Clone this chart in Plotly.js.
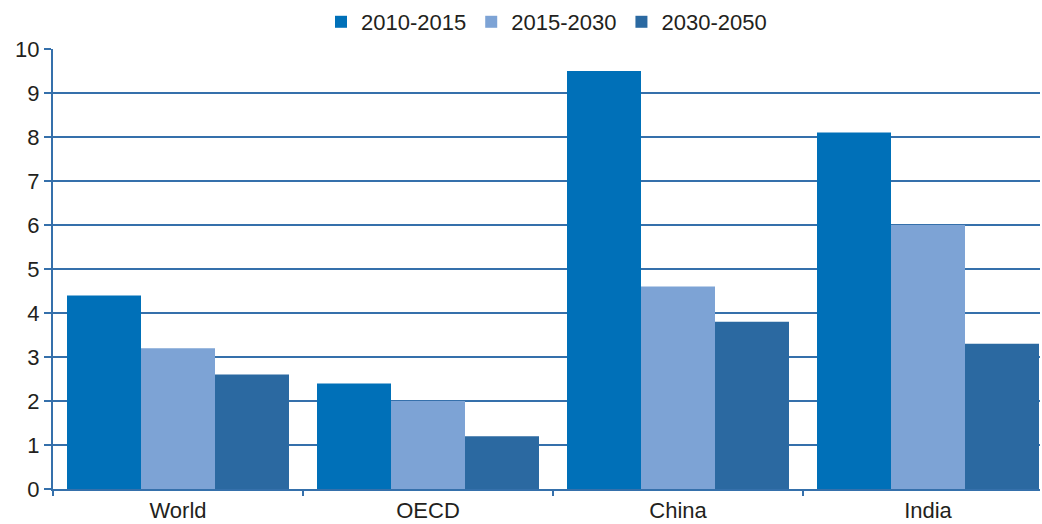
<!DOCTYPE html>
<html>
<head>
<meta charset="utf-8">
<script src="https://cdn.plot.ly/plotly-3.0.1.min.js"></script>
<style>html,body{margin:0;padding:0;background:#fff;}#chart{width:1042px;height:524px;}</style>
</head>
<body>
<div id="chart"></div>
<script>
const categories = ["World", "OECD", "China", "India"];
const seriesNames = ["2010-2015", "2015-2030", "2030-2050"];
const values2010_2015 = [4.4, 2.4, 9.5, 8.1];
const values2015_2030 = [3.2, 2.0, 4.6, 6.0];
const values2030_2050 = [2.6, 1.2, 3.8, 3.3];
const yTicks = [0, 1, 2, 3, 4, 5, 6, 7, 8, 9, 10];

const colors = ["#0070b8", "#7da3d5", "#2b69a1"];
const allValues = [values2010_2015, values2015_2030, values2030_2050];

const traces = allValues.map((v, i) => ({
  type: "bar",
  name: seriesNames[i],
  x: categories,
  y: v,
  marker: {color: colors[i], line: {width: 0}},
  hoverinfo: "x+y+name"
}));

const lineCol = "#3570ab";
const font = {family: "Liberation Sans, Arial, sans-serif", size: 22, color: "#231f20"};

const layout = {
  width: 1042,
  height: 524,
  margin: {l: 53, r: 2, t: 48, b: 35, pad: 0},
  paper_bgcolor: "#ffffff",
  plot_bgcolor: "#ffffff",
  font: font,
  barmode: "group",
  bargap: 0.112,
  bargroupgap: 0,
  showlegend: true,
  legend: {
    orientation: "h",
    x: 0.5, xanchor: "center",
    y: 1.059, yanchor: "middle",
    font: font,
    itemwidth: 30,
    tracegroupgap: 0,
    traceorder: "normal"
  },
  xaxis: {
    type: "category",
    range: [-0.5, 3.448],
    showline: true,
    linecolor: lineCol,
    linewidth: 2,
    ticks: "outside",
    tickson: "boundaries",
    ticklen: 5,
    tickcolor: lineCol,
    tickwidth: 2,
    ticklabelstandoff: 1,
    showgrid: false,
    zeroline: false,
    tickfont: font
  },
  yaxis: {
    range: [0, 10],
    tickvals: yTicks,
    ticktext: yTicks.map(String),
    showline: true,
    linecolor: lineCol,
    linewidth: 2,
    ticks: "outside",
    ticklen: 7,
    tickcolor: lineCol,
    tickwidth: 2,
    showgrid: true,
    gridcolor: lineCol,
    gridwidth: 2,
    zeroline: false,
    tickfont: font
  }
};

Plotly.newPlot("chart", traces, layout, {displayModeBar: false, staticPlot: true});
</script>
</body>
</html>
